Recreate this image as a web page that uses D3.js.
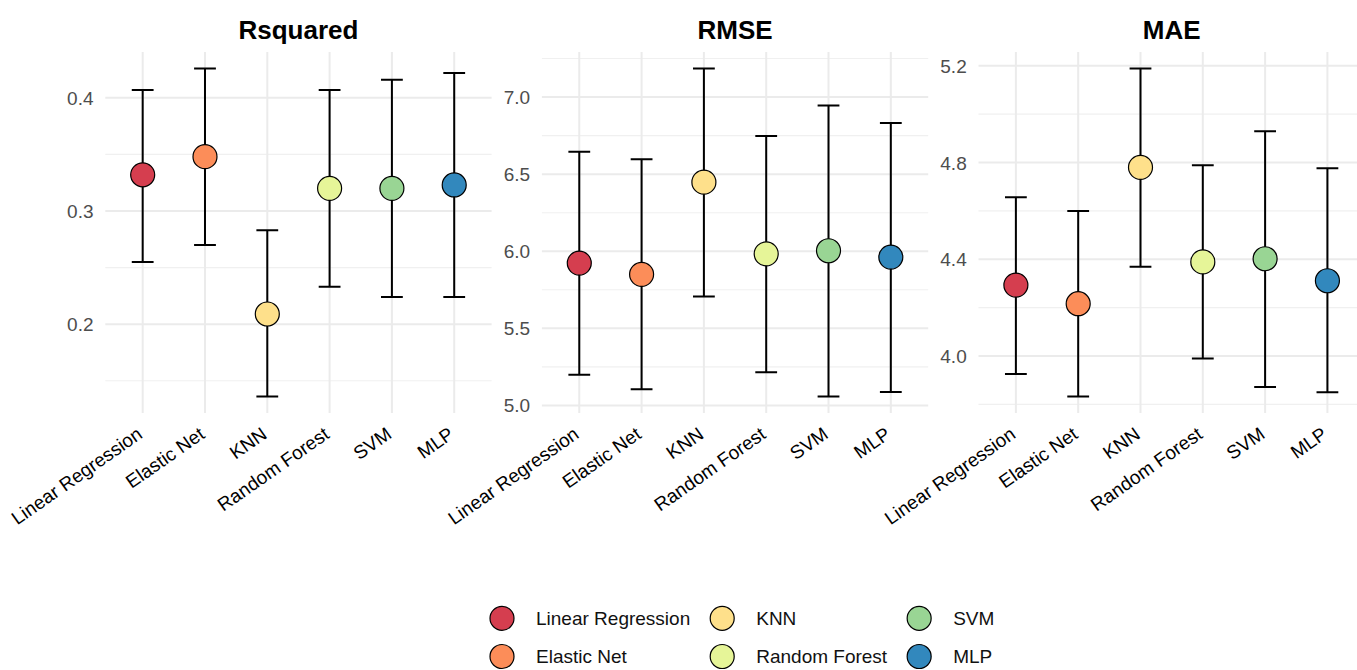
<!DOCTYPE html>
<html>
<head>
<meta charset="utf-8">
<script src="https://cdn.jsdelivr.net/npm/d3@7"></script>
<style>
  body { margin: 0; background: #fff; }
  svg { font-family: "Liberation Sans", Arial, sans-serif; }
</style>
</head>
<body>
<div id="chart"></div>
<script>
// models and palette (brewer Spectral, 6)
const models = ["Linear Regression", "Elastic Net", "KNN", "Random Forest", "SVM", "MLP"];
const colors = ["#D53E4F", "#FC8D59", "#FEE08B", "#E6F598", "#99D594", "#3288BD"];
const metrics = ["Rsquared", "RMSE", "MAE"];

// values
const rsqMean  = [0.332, 0.348, 0.209, 0.320, 0.320, 0.323];
const rsqLower = [0.255, 0.270, 0.136, 0.233, 0.224, 0.224];
const rsqUpper = [0.407, 0.426, 0.283, 0.407, 0.416, 0.422];

const rmseMean  = [5.923, 5.850, 6.448, 5.983, 6.003, 5.962];
const rmseLower = [5.198, 5.105, 5.707, 5.215, 5.057, 5.087];
const rmseUpper = [6.646, 6.597, 7.186, 6.747, 6.946, 6.832];

const maeMean  = [4.293, 4.216, 4.780, 4.389, 4.402, 4.311];
const maeLower = [3.925, 3.832, 4.369, 3.989, 3.872, 3.850];
const maeUpper = [4.656, 4.599, 5.189, 4.789, 4.929, 4.776];

const rsqTicks  = [0.2, 0.3, 0.4];
const rmseTicks = [5.0, 5.5, 6.0, 6.5, 7.0];
const maeTicks  = [4.0, 4.4, 4.8, 5.2];

let width = 1357, height = 670;
let panelTop = 52, panelBottom = 413,
    panelW = 386.3, panelGap = 50.3, firstLeft = 105.3;

let panels = [
  {title: metrics[0], mean: rsqMean, lower: rsqLower, upper: rsqUpper, ticks: rsqTicks},
  {title: metrics[1], mean: rmseMean, lower: rmseLower, upper: rmseUpper, ticks: rmseTicks},
  {title: metrics[2], mean: maeMean, lower: maeLower, upper: maeUpper, ticks: maeTicks}
];

let colorScale = d3.scaleOrdinal().domain(models).range(colors);
let fmt = d3.format(".1f");

let svg = d3.select("#chart")
    .append("svg")
    .attr("width", width)
    .attr("height", height);

panels.forEach((p, i) => {
  let left = firstLeft + i * (panelW + panelGap);
  let g = svg.append("g").attr("transform", `translate(${left},0)`);

  let x = d3.scalePoint().domain(models).range([0, panelW]).padding(0.6);

  // ggplot style 5% expansion around the error bar range
  let lo = d3.min(p.lower), hi = d3.max(p.upper);
  let pad = (hi - lo) * 0.05;
  let y = d3.scaleLinear().domain([lo - pad, hi + pad]).range([panelBottom, panelTop]);

  let step = p.ticks[1] - p.ticks[0];
  let minor = p.ticks.map(t => t - step / 2).concat([p.ticks[p.ticks.length - 1] + step / 2])
      .filter(t => t >= y.domain()[0] && t <= y.domain()[1]);

  // grid
  g.selectAll("line.minor")
      .data(minor)
      .join("line")
      .attr("class", "minor")
      .attr("x1", 0).attr("x2", panelW)
      .attr("y1", d => y(d)).attr("y2", d => y(d))
      .attr("stroke", "#f0f0f0")
      .attr("stroke-width", 1.1);

  g.selectAll("line.major")
      .data(p.ticks)
      .join("line")
      .attr("class", "major")
      .attr("x1", 0).attr("x2", panelW)
      .attr("y1", d => y(d)).attr("y2", d => y(d))
      .attr("stroke", "#ebebeb")
      .attr("stroke-width", 2);

  g.selectAll("line.vgrid")
      .data(models)
      .join("line")
      .attr("class", "vgrid")
      .attr("x1", d => x(d)).attr("x2", d => x(d))
      .attr("y1", panelTop).attr("y2", panelBottom)
      .attr("stroke", "#ebebeb")
      .attr("stroke-width", 2);

  // y tick labels
  g.selectAll("text.ytick")
      .data(p.ticks)
      .join("text")
      .attr("class", "ytick")
      .attr("x", -11.8)
      .attr("y", d => y(d))
      .attr("dy", "0.37em")
      .attr("text-anchor", "end")
      .attr("font-size", 19)
      .attr("fill", "#4d4d4d")
      .text(d => fmt(d));

  // x tick labels, rotated
  g.selectAll("text.xtick")
      .data(models)
      .join("text")
      .attr("class", "xtick")
      .attr("transform", d => `translate(${x(d) + 1},437) rotate(-35)`)
      .attr("text-anchor", "end")
      .attr("font-size", 19)
      .attr("fill", "#000")
      .text(d => d);

  // title
  g.append("text")
      .attr("x", panelW / 2)
      .attr("y", 39)
      .attr("text-anchor", "middle")
      .attr("font-size", 26)
      .attr("font-weight", "bold")
      .attr("fill", "#000")
      .text(p.title);

  // error bars
  let cap = x.step() * 0.35 / 2;
  g.selectAll("path.err")
      .data(models)
      .join("path")
      .attr("class", "err")
      .attr("d", (d, j) => {
        let cx = x(d), u = y(p.upper[j]), l = y(p.lower[j]);
        return `M${cx - cap},${u}H${cx + cap}M${cx},${u}V${l}M${cx - cap},${l}H${cx + cap}`;
      })
      .attr("fill", "none")
      .attr("stroke", "#000")
      .attr("stroke-width", 2);

  // points
  g.selectAll("circle.pt")
      .data(models)
      .join("circle")
      .attr("class", "pt")
      .attr("cx", d => x(d))
      .attr("cy", (d, j) => y(p.mean[j]))
      .attr("r", 12)
      .attr("fill", d => colorScale(d))
      .attr("stroke", "#000")
      .attr("stroke-width", 1.2);
});

// legend: 3 columns x 2 rows, filled by column
let legend = svg.append("g");
let rowY = [618.3, 656.5];
let colX = 502;
for (let c = 0; c < 3; c++) {
  let maxW = 0;
  for (let r = 0; r < 2; r++) {
    let m = models[c * 2 + r];
    legend.append("circle")
        .attr("cx", colX)
        .attr("cy", rowY[r])
        .attr("r", 12)
        .attr("fill", colorScale(m))
        .attr("stroke", "#000")
        .attr("stroke-width", 1.2);
    let t = legend.append("text")
        .attr("x", colX + 34)
        .attr("y", rowY[r])
        .attr("dy", "0.36em")
        .attr("font-size", 19)
        .attr("fill", "#111")
        .text(m);
    maxW = Math.max(maxW, t.node().getComputedTextLength());
  }
  colX = colX + 34 + maxW + 32;
}
</script>
</body>
</html>
